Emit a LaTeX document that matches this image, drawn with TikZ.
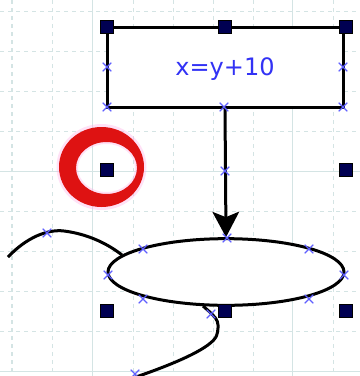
\documentclass[tikz,border=0pt]{standalone}
\usepackage{fontspec}
\newfontfamily\labelfont{DejaVu Sans}
\usetikzlibrary{positioning, arrows.meta, shapes.geometric, shapes.misc}
\definecolor{gridcyan}{RGB}{212, 228, 228}
\definecolor{handlenavy}{RGB}{0, 0, 82}
\definecolor{markblue}{RGB}{95, 95, 255}
\definecolor{textblue}{RGB}{50, 50, 245}
\definecolor{ringred}{RGB}{222, 18, 18}
\definecolor{ringglow}{RGB}{255, 170, 230}

\begin{document}
\begin{tikzpicture}[x=0.75pt, y=-0.75pt, line width=2.25pt,
  gridminor/.style={draw=gridcyan, line width=0.75pt, dash pattern=on 3pt off 3pt},
  gridmajor/.style={draw=gridcyan, line width=0.75pt},
  box/.style={rectangle, draw, fill=white, minimum width=177pt,
              minimum height=60pt, inner sep=0pt, text=textblue,
              font=\labelfont\fontsize{18}{18}\selectfont, text depth=0pt},
  decision/.style={ellipse, draw, fill=white, minimum width=177pt,
                   minimum height=50pt, inner sep=0pt},
  handle/.style={rectangle, draw=black, line width=0.4pt, fill=handlenavy,
                 minimum size=9.5pt, inner sep=0pt},
  crossmark/.style={cross out, draw=markblue, line width=0.9pt,
                    minimum size=5.5pt, inner sep=0pt}]
  \useasboundingbox (0,0) rectangle (360,376);
  % grid
  \foreach \gx in {12,52.1,133.3,173.4,213.5,253.6,333.8}
    \draw[gridminor] (\gx,0) -- (\gx,376);
  \foreach \gx in {92.2,292.7}
    \draw[gridmajor] (\gx,0) -- (\gx,376);
  \foreach \gy in {11,51.1,91.2,131.3,211.5,251.6,291.7,331.8}
    \draw[gridminor] (0,\gy) -- (360,\gy);
  \foreach \gy in {171.4,371.9}
    \draw[gridmajor] (0,\gy) -- (360,\gy);
  % red ring
  \fill[ringglow, opacity=0.35, even odd rule]
    (101.5,167) ellipse [x radius=45, y radius=43]
    (106.5,168) ellipse [x radius=28.5, y radius=24];
  \fill[ringred, even odd rule]
    (101.5,167) ellipse [x radius=42.5, y radius=40]
    (106.5,168) ellipse [x radius=30.5, y radius=26];
  % shapes
  \node[box] (assign) at (225,67) {x=y+10};
  \node[decision] (cond) at (226,272) {};
  \draw[-{Stealth[length=19pt, width=20pt, inset=4pt]}] (assign.south) -- (cond.north);
  % free curves
  \coordinate (lstart) at (8,257);
  \coordinate (lend) at (122,255);
  \coordinate (rstart) at (203,306);
  \coordinate (rend) at (133,378);
  \draw (lstart) .. controls (27,237) and (48,229) .. (64,231)
        .. controls (88,234) and (108,244) .. (lend);
  \draw[rounded corners=3pt] (rstart) -- (212,314) -- (218,321) -- (218,332)
        .. controls (212,347) and (180,362) .. (rend);
  % blue crosses
  \foreach \px/\py [count=\k] in {107/67,343/67,107/107,224/107,343/107,225/171,
      227/238,143/249,309/249,108/275,344/275,143/299,309/299,
      47/233,211/314,135/374}
    \node[crossmark] (x\k) at (\px,\py) {};
  % selection handles
  \foreach \px/\py [count=\k] in {107/27,225/27,346/27,107/170,346/170,
      107/311,225/311,346/311}
    \node[handle] (h\k) at (\px,\py) {};
\end{tikzpicture}
\end{document}
